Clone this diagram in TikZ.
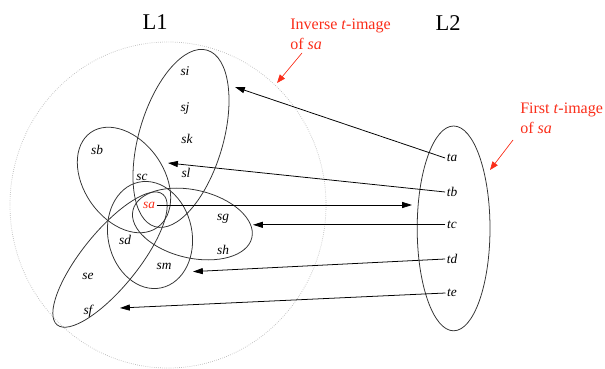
\documentclass[tikz,border=0pt]{standalone}
\usepackage{fontspec}
\setmainfont{Liberation Serif}
\usetikzlibrary{arrows.meta}
\definecolor{notered}{RGB}{250,45,25}
\tikzset{
  region/.style={draw=black!80,line width=0.55pt},
  elt/.style={font=\fontsize{9.5}{11}\selectfont\itshape,inner sep=1pt},
  space/.style={font=\fontsize{16}{18}\selectfont,inner sep=1pt},
  note/.style={font=\fontsize{11.4}{14.2}\selectfont,text=notered,align=left,inner sep=0pt},
  mapto/.style={-{Triangle[length=7pt,width=4.3pt]},line width=0.55pt},
  hint/.style={-{Triangle[length=6pt,width=4.6pt]},draw=notered,fill=notered,line width=0.45pt}
}

\begin{document}
\begin{tikzpicture}
  \useasboundingbox (0,0) rectangle (15.125,9.2);
  \draw[gray!55,densely dotted,line width=0.5pt] (4.2,4.075) ellipse [x radius=3.95,y radius=4.075];
  \draw[region] (11.34,3.49) ellipse [x radius=0.91,y radius=2.56];
  \node[space] (L1) at (3.875,8.65) {L1};
  \node[space] (L2) at (11.2,8.625) {L2};

  \draw[region] (4.525,5.74) ellipse [x radius=2.3,y radius=1.05,rotate=73.5];
  \draw[region] (3.1,4.7) ellipse [x radius=1.45,y radius=1.0,rotate=-55];
  \draw[region] (4.81,3.6) ellipse [x radius=1.525,y radius=0.85,rotate=-13];
  \draw[region] (3.75,3.325) ellipse [x radius=1.35,y radius=1.05,rotate=102];
  \draw[region] (2.75,2.71) ellipse [x radius=2.1,y radius=0.7,rotate=51];

  \node[elt] (si) at (4.625,7.425) {si};
  \node[elt] (sj) at (4.625,6.5) {sj};
  \node[elt] (sk) at (4.675,5.725) {sk};
  \node[elt] (sl) at (4.65,4.875) {sl};
  \node[elt] (sb) at (2.425,5.45) {sb};
  \node[elt] (sc) at (3.55,4.775) {sc};
  \node[elt,text=notered] (sa) at (3.725,4.075) {sa};
  \node[elt] (sg) at (5.575,3.725) {sg};
  \node[elt] (sh) at (5.575,2.95) {sh};
  \node[elt] (sd) at (3.125,3.2) {sd};
  \node[elt] (sm) at (4.1,2.55) {sm};
  \node[elt] (se) at (2.2,2.3) {se};
  \node[elt] (sf) at (2.2,1.43) {sf};

  \node[elt] (ta) at (11.3,5.25) {ta};
  \node[elt] (tb) at (11.3,4.4) {tb};
  \node[elt] (tc) at (11.3,3.58) {tc};
  \node[elt] (td) at (11.3,2.725) {td};
  \node[elt] (te) at (11.3,1.875) {te};

  \coordinate (atA) at (5.875,7.025);
  \coordinate (atB) at (4.2,5.125);
  \coordinate (atC) at (6.325,3.58);
  \coordinate (atD) at (4.825,2.41);
  \coordinate (atE) at (3.0,1.5);
  \coordinate (atL2) at (10.3,4.075);

  \draw[mapto] (ta.west) -- (atA);
  \draw[mapto] (tb.west) -- (atB);
  \draw[mapto] (tc.west) -- (atC);
  \draw[mapto] (td.west) -- (atD);
  \draw[mapto] (te.west) -- (atE);
  \draw[mapto] (sa.east) -- (atL2);

  \node[note,anchor=west] (inv) at (7.25,8.35) {Inverse \textit{t}-image\\of \textit{sa}};
  \node[note,anchor=west] (first) at (13.0,6.25) {First \textit{t}-image\\of \textit{sa}};
  \coordinate (invtail) at (7.55,7.875);
  \coordinate (invtip) at (6.925,7.125);
  \coordinate (firsttail) at (12.825,5.7);
  \coordinate (firsttip) at (12.25,4.95);
  \draw[hint] (invtail) -- (invtip);
  \draw[hint] (firsttail) -- (firsttip);
\end{tikzpicture}
\end{document}
